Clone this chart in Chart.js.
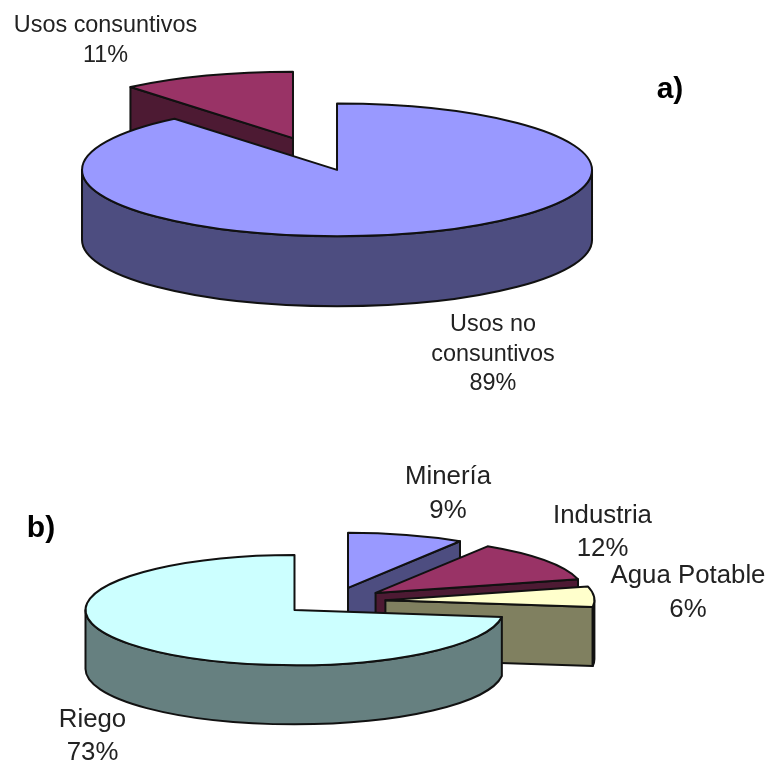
<!DOCTYPE html>
<html>
<head>
<meta charset="utf-8">
<script src="https://cdn.jsdelivr.net/npm/chart.js@4/dist/chart.umd.min.js"></script>
<style>
  html, body { margin: 0; padding: 0; background: #fff; }
  body { position: relative; width: 770px; height: 764px; overflow: hidden; }
  canvas { position: absolute; left: 0; }
  #pieA { top: 0; }
  #pieB { top: 400px; }
</style>
</head>
<body>
<canvas id="pieA" width="770" height="400"></canvas>
<canvas id="pieB" width="770" height="364"></canvas>
<script>
// Uso del agua: a) total, b) usos consuntivos
const usosLabels = [['Usos no', 'consuntivos'], ['Usos consuntivos']];
const usosValues = [89, 11];
const usosTop = ['#9999ff', '#993366'];
const usosSide = ['#4d4d80', '#4d1a33'];
const usosRim = ['#4d4d80', '#4d1a33'];

const sectorLabels = [['Minería'], ['Industria'], ['Agua Potable'], ['Riego']];
const sectorValues = [9, 12, 6, 73];
const sectorTop = ['#9999ff', '#993366', '#ffffcc', '#ccffff'];
const sectorSide = ['#4d4d80', '#4d1a33', '#808060', '#668080'];
const sectorRim = ['#4d4d80', '#4d1a33', '#000000', '#668080'];

const LINE = '#111111';
const TEXT = '#222222';

// Pie with a fake 3D look: every slice is moved out from the center, squashed
// vertically and extruded downwards, back slices first
const pie3d = {
    id: 'pie3d',
    beforeDatasetDraw(chart) {
        const o = chart.options.plugins.pie3d;
        const ctx = chart.ctx;
        const slices = chart.getDatasetMeta(0).data.map((arc, i) => {
            const mid = (arc.startAngle + arc.endAngle) / 2;
            return {
                arc, i,
                cx: arc.x + Math.cos(mid) * o.explode,
                cy: arc.y + Math.sin(mid) * o.explode * o.tilt
            };
        });
        slices.sort((a, b) => a.cy - b.cy);

        slices.forEach(s => {
            const { arc, i, cx, cy } = s;
            const r = arc.outerRadius;
            const ry = r * o.tilt;
            const a0 = arc.startAngle;
            const a1 = arc.endAngle;

            // cut faces, only the ones turned to the viewer
            if (-Math.cos(a0) > 0.001) cutFace(ctx, cx, cy, r, ry, a0, o.depth, o.side[i]);
            if (Math.cos(a1) > 0.001) cutFace(ctx, cx, cy, r, ry, a1, o.depth, o.side[i]);

            // rounded outer wall
            const lo = Math.max(a0, 0);
            const hi = Math.min(a1, Math.PI);
            if (hi > lo) {
                ctx.beginPath();
                ctx.ellipse(cx, cy, r, ry, 0, lo, hi);
                ctx.ellipse(cx, cy + o.depth, r, ry, 0, hi, lo, true);
                ctx.closePath();
                ctx.fillStyle = o.rim[i];
                ctx.fill();
                outline(ctx);
            }

            // top face, filled by the arc element itself
            ctx.save();
            ctx.translate(cx, cy);
            ctx.scale(1, o.tilt);
            ctx.translate(-arc.x, -arc.y);
            arc.draw(ctx);
            ctx.restore();

            ctx.beginPath();
            ctx.moveTo(cx, cy);
            ctx.ellipse(cx, cy, r, ry, 0, a0, a1);
            ctx.closePath();
            outline(ctx);
        });
        return false;
    },
    afterDraw(chart) {
        const o = chart.options.plugins.pie3d;
        const ctx = chart.ctx;
        const labels = chart.data.labels;
        const values = chart.data.datasets[0].data;
        ctx.save();
        ctx.textAlign = 'center';
        ctx.textBaseline = 'alphabetic';
        ctx.fillStyle = TEXT;
        ctx.font = o.labelFont;
        labels.forEach((lines, i) => {
            const at = o.labelAt[i];
            [...lines, values[i] + '%'].forEach((txt, n) => {
                ctx.fillText(txt, at[0], at[1] + n * o.labelLine);
            });
        });
        ctx.fillStyle = '#000';
        ctx.font = 'bold 30px "Liberation Sans", Arial, sans-serif';
        ctx.fillText(o.letter, o.letterAt[0], o.letterAt[1]);
        ctx.restore();
    }
};

function cutFace(ctx, cx, cy, r, ry, angle, depth, color) {
    const ex = cx + Math.cos(angle) * r;
    const ey = cy + Math.sin(angle) * ry;
    ctx.beginPath();
    ctx.moveTo(cx, cy);
    ctx.lineTo(ex, ey);
    ctx.lineTo(ex, ey + depth);
    ctx.lineTo(cx, cy + depth);
    ctx.closePath();
    ctx.fillStyle = color;
    ctx.fill();
    outline(ctx);
}

function outline(ctx) {
    ctx.strokeStyle = LINE;
    ctx.lineWidth = 2;
    ctx.lineJoin = 'round';
    ctx.stroke();
}

function makePie(id, labels, values, top, padding, radius, settings) {
    return new Chart(document.getElementById(id), {
        type: 'pie',
        data: {
            labels: labels,
            datasets: [{ data: values, backgroundColor: top, borderWidth: 0, radius: radius }]
        },
        options: {
            responsive: false,
            animation: false,
            layout: { padding: padding },
            plugins: {
                legend: { display: false },
                tooltip: { enabled: false },
                pie3d: settings
            }
        },
        plugins: [pie3d]
    });
}

makePie('pieA', usosLabels, usosValues, usosTop, { right: 140, bottom: 92 }, 255, {
    explode: 65,
    tilt: 0.26,
    depth: 70,
    side: usosSide,
    rim: usosRim,
    labelFont: '23.4px "Liberation Sans", Arial, sans-serif',
    labelLine: 29.5,
    labelAt: [[493, 331], [105.5, 32]],
    letter: 'a)',
    letterAt: [670, 98]
});

makePie('pieB', sectorLabels, sectorValues, sectorTop, { right: 103, top: 38 }, 209, {
    explode: 52,
    tilt: 0.264,
    depth: 59,
    side: sectorSide,
    rim: sectorRim,
    labelFont: '25.8px "Liberation Sans", Arial, sans-serif',
    labelLine: 33.5,
    labelAt: [[448, 84], [602.5, 122.7], [688, 183], [92.5, 326.7]],
    letter: 'b)',
    letterAt: [41, 137]
});
</script>
</body>
</html>
